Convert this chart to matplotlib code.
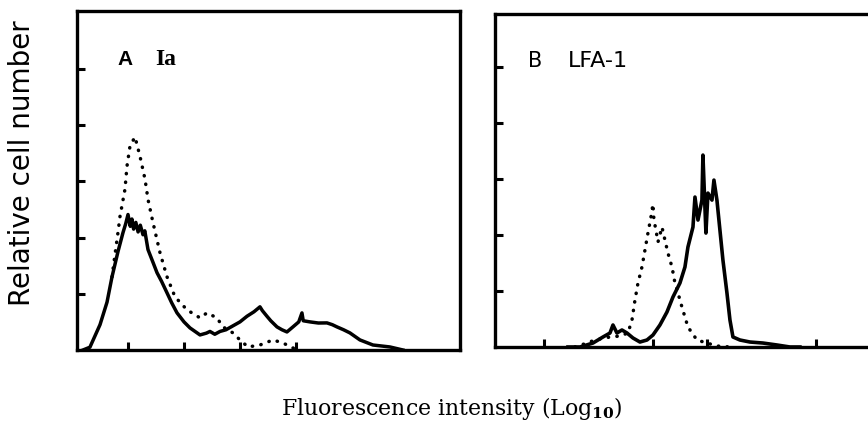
import matplotlib
matplotlib.use("Agg")
import matplotlib.pyplot as plt

plt.rcParams['mathtext.fontset'] = 'custom'
plt.rcParams['mathtext.rm'] = 'DejaVu Serif'
plt.rcParams['mathtext.bf'] = 'DejaVu Serif:bold'

# ---- Panel A: Ia ----
a_solid_x = [0.196, 0.32, 0.5, 0.625, 0.714, 0.821, 0.911, 0.96, 1.0, 1.04, 1.07, 1.10, 1.14, 1.18,
             1.22, 1.268, 1.30, 1.357, 1.45, 1.518, 1.60, 1.696, 1.78, 1.875, 2.0, 2.107, 2.286,
             2.40, 2.464, 2.55, 2.643, 2.75, 2.875, 3.0, 3.125, 3.25, 3.357, 3.40, 3.482, 3.55,
             3.661, 3.75, 3.839, 3.946, 4.05, 4.107, 4.13, 4.25, 4.40, 4.554, 4.65, 4.732, 4.85,
             4.964, 5.143, 5.375, 5.679, 5.911]
a_solid_y = [0.0, 0.05, 0.45, 0.85, 1.3, 1.75, 2.09, 2.25, 2.41, 2.2, 2.33, 2.15, 2.27, 2.10,
             2.22, 2.05, 2.12, 1.786, 1.55, 1.375, 1.22, 1.018, 0.84, 0.661, 0.50, 0.393, 0.268,
             0.30, 0.33, 0.28, 0.33, 0.36, 0.43, 0.50, 0.60, 0.68, 0.768, 0.70, 0.60, 0.52,
             0.411, 0.36, 0.321, 0.411, 0.50, 0.66, 0.52, 0.50, 0.48, 0.482, 0.45, 0.411, 0.36,
             0.304, 0.179, 0.089, 0.054, 0.0]

a_dot_x = [0.714, 0.768, 0.821, 0.857, 0.946, 0.982, 1.036, 1.125, 1.214, 1.304, 1.357, 1.446,
           1.571, 1.696, 1.839, 2.054, 2.286, 2.411, 2.589, 2.696, 2.875, 3.0, 3.143, 3.357,
           3.589, 3.768, 3.946, 4.071]
a_dot_y = [1.3, 1.7, 2.09, 2.375, 2.86, 3.27, 3.63, 3.79, 3.446, 3.036, 2.679, 2.268,
           1.732, 1.304, 0.946, 0.714, 0.571, 0.661, 0.571, 0.411, 0.304, 0.179, 0.054, 0.089,
           0.179, 0.125, 0.036, 0.0]

# ---- Panel B: LFA-1 ----
b_solid_x = [1.44, 1.661, 1.899, 2.083, 2.211, 2.266, 2.339, 2.431, 2.523, 2.633, 2.761, 2.890,
             3.0, 3.128, 3.257, 3.367, 3.495, 3.587, 3.642, 3.734, 3.771, 3.826, 3.899, 3.917,
             3.972, 4.009, 4.083, 4.119, 4.174, 4.229, 4.284, 4.358, 4.413, 4.468, 4.596, 4.780,
             5.018, 5.275, 5.514, 5.697]
b_solid_y = [0.0, 0.0, 0.071, 0.179, 0.25, 0.393, 0.25, 0.304, 0.25, 0.161, 0.089, 0.125,
             0.214, 0.393, 0.625, 0.893, 1.143, 1.429, 1.786, 2.143, 2.679, 2.268, 2.625, 3.429,
             2.036, 2.75, 2.625, 2.982, 2.625, 2.089, 1.554, 0.964, 0.482, 0.179, 0.125, 0.089,
             0.071, 0.036, 0.0, 0.0]

b_dot_x = [1.569, 1.789, 1.936, 2.211, 2.394, 2.541, 2.615, 2.670, 2.725, 2.798, 2.853, 2.908,
           2.963, 3.0, 3.018, 3.055, 3.092, 3.165, 3.220, 3.275, 3.349, 3.404, 3.459, 3.532,
           3.642, 3.807, 3.991, 4.174, 4.413]
b_dot_y = [0.0, 0.071, 0.125, 0.179, 0.196, 0.25, 0.482, 0.839, 1.143, 1.429, 1.732, 2.036,
           2.321, 2.554, 2.268, 2.089, 1.875, 2.143, 1.911, 1.679, 1.429, 1.143, 0.964, 0.714,
           0.357, 0.125, 0.071, 0.018, 0.0]

a_xticks = [1, 2, 3, 4]
b_xticks = [1, 3, 4, 6]
yticks = [1, 2, 3, 4, 5]

W, H = 868, 428
fig = plt.figure(figsize=(W / 100, H / 100), dpi=100)

axA = fig.add_axes([77 / W, 1 - 350 / H, 383 / W, 339 / H])
axB = fig.add_axes([495 / W, 1 - 347 / H, 383 / W, 333 / H])

def style(ax, xticks, xlim, ylim):
    ax.set_xlim(*xlim)
    ax.set_ylim(*ylim)
    ax.set_xticks(xticks)
    ax.set_yticks(yticks)
    ax.tick_params(direction='in', length=6, width=2.2, labelbottom=False, labelleft=False,
                   bottom=True, left=True, top=False, right=False)
    for s in ax.spines.values():
        s.set_linewidth(2.4)
        s.set_color('black')

style(axA, a_xticks, (0.089, 6.93), (0, 6.03))
style(axB, b_xticks, (0.101, 7.13), (0, 5.95))

dot_style = dict(color='black', lw=2.5, linestyle=(0, (0.1, 2.4)), dash_capstyle='round')
axA.plot(a_dot_x, a_dot_y, **dot_style, clip_on=False)
axA.plot(a_solid_x, a_solid_y, color='black', lw=2.5, solid_joinstyle='round')
axB.plot(b_dot_x, b_dot_y, **dot_style, clip_on=False)
axB.plot(b_solid_x, b_solid_y, color='black', lw=2.6, solid_joinstyle='round')

axA.text(0.107, 0.841, 'A', transform=axA.transAxes, fontsize=15, fontweight='bold',
         family='Liberation Sans', va='baseline')
axA.text(0.204, 0.841, 'Ia', transform=axA.transAxes, fontsize=17, fontweight='bold',
         family='Liberation Serif', va='baseline')
axB.text(0.086, 0.841, 'B', transform=axB.transAxes, fontsize=15,
         family='DejaVu Sans', va='baseline')
axB.text(0.19, 0.841, 'LFA-1', transform=axB.transAxes, fontsize=16,
         family='DejaVu Sans', va='baseline')

fig.text(22 / W, 1 - 163 / H, 'Relative cell number', rotation=90, ha='center', va='center',
         fontsize=20, family='DejaVu Sans')
fig.text(452 / W, 1 - 408 / H, r'Fluorescence intensity (Log$_{\mathbf{10}}$)', ha='center',
         va='center', fontsize=15.8, family='DejaVu Serif')

fig.savefig('out.png', dpi=100)
